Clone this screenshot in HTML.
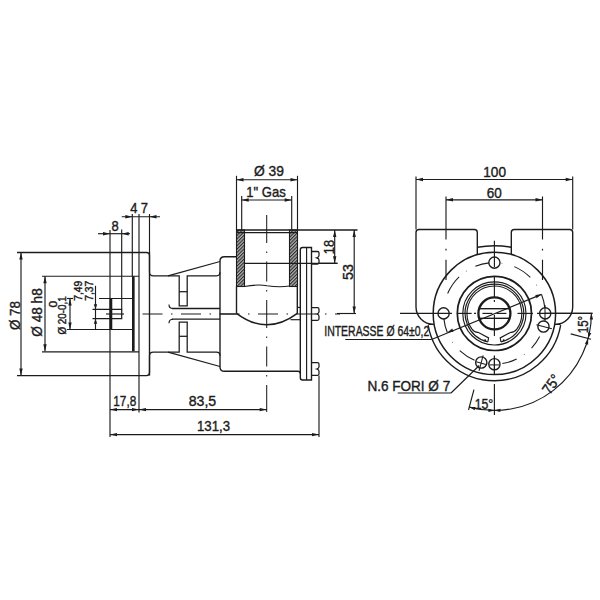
<!DOCTYPE html>
<html><head><meta charset="utf-8"><style>
html,body{margin:0;padding:0;background:#fff;}
svg{display:block;}
text{font-family:"Liberation Sans",sans-serif;fill:#1c1c1c;stroke:#1c1c1c;stroke-width:0.4px;}
</style></head><body>
<svg width="600" height="600" viewBox="0 0 600 600" stroke="#1c1c1c" stroke-linecap="butt">
<rect width="600" height="600" fill="#fff" stroke="none"/>
<path d="M17,252.5 H146.5 Q149.5,252.5 149.5,255.5 V272 Q149.5,275.8 153.3,275.8 H179.2 V305.8 H187.2 V275.8 H216.5 Q220,275.8 220,272.3" stroke-width="1.26" fill="none" />
<line x1="168.00" y1="275.80" x2="220.00" y2="261.50" stroke-width="1.26" />
<line x1="179.20" y1="291.70" x2="187.20" y2="291.70" stroke-width="1.26" />
<line x1="42.00" y1="276.20" x2="139.00" y2="276.20" stroke-width="1.15" />
<path d="M17,375.6 H146.5 Q149.5,375.6 149.5,372.6 V356.0 Q149.5,352.2 153.3,352.2 H179.2 V322.2 H187.2 V352.2 H216.5 Q220,352.2 220,355.7" stroke-width="1.26" fill="none" />
<line x1="168.00" y1="352.20" x2="220.00" y2="366.50" stroke-width="1.26" />
<line x1="179.20" y1="336.30" x2="187.20" y2="336.30" stroke-width="1.26" />
<line x1="42.00" y1="351.80" x2="139.00" y2="351.80" stroke-width="1.15" />
<path d="M236.5,256.7 H224.5 Q220,256.7 220,261 V366.9 Q220,371.2 224.5,371.2 H298 Q300.3,371.2 300.3,373.5" stroke-width="1.38" fill="none" />
<line x1="139.00" y1="214.00" x2="139.00" y2="412.50" stroke-width="1.15" />
<line x1="149.50" y1="214.00" x2="149.50" y2="253.00" stroke-width="1.15" />
<line x1="149.50" y1="252.50" x2="149.50" y2="375.60" stroke-width="1.38" />
<line x1="132.30" y1="214.00" x2="132.30" y2="276.20" stroke-width="1.15" />
<line x1="133.30" y1="276.20" x2="133.30" y2="351.20" stroke-width="2.64" />
<line x1="21.00" y1="252.50" x2="21.00" y2="375.60" stroke-width="1.15" />
<path d="M21.00,252.50 L22.70,259.50 L19.30,259.50 Z" fill="#1c1c1c" stroke="none"/>
<path d="M21.00,375.60 L19.30,368.60 L22.70,368.60 Z" fill="#1c1c1c" stroke="none"/>
<line x1="45.00" y1="276.20" x2="45.00" y2="351.20" stroke-width="1.15" />
<path d="M45.00,276.20 L46.70,283.20 L43.30,283.20 Z" fill="#1c1c1c" stroke="none"/>
<path d="M45.00,351.20 L43.30,344.20 L46.70,344.20 Z" fill="#1c1c1c" stroke="none"/>
<line x1="70.00" y1="298.50" x2="70.00" y2="329.50" stroke-width="1.15" />
<path d="M70.00,298.50 L71.70,305.50 L68.30,305.50 Z" fill="#1c1c1c" stroke="none"/>
<path d="M70.00,329.50 L68.30,322.50 L71.70,322.50 Z" fill="#1c1c1c" stroke="none"/>
<line x1="67.00" y1="298.50" x2="73.00" y2="298.50" stroke-width="1.15" />
<line x1="99.00" y1="298.50" x2="133.00" y2="298.50" stroke-width="1.15" />
<line x1="67.00" y1="329.50" x2="133.00" y2="329.50" stroke-width="1.15" />
<line x1="110.00" y1="230.00" x2="110.00" y2="437.00" stroke-width="1.15" />
<line x1="110.90" y1="298.50" x2="110.90" y2="329.50" stroke-width="2.76" />
<path d="M92.5,309.3 H121.7 V318.7 H92.5" stroke-width="1.26" fill="none" />
<line x1="121.70" y1="229.50" x2="121.70" y2="309.30" stroke-width="1.15" />
<line x1="106.00" y1="314.00" x2="124.00" y2="314.00" stroke-width="1.15" />
<line x1="95.50" y1="285.80" x2="95.50" y2="329.50" stroke-width="1.15" />
<path d="M95.50,309.30 L93.80,304.30 L97.20,304.30 Z" fill="#1c1c1c" stroke="none"/>
<path d="M95.50,318.70 L97.20,323.70 L93.80,323.70 Z" fill="#1c1c1c" stroke="none"/>
<line x1="98.00" y1="233.70" x2="130.00" y2="233.70" stroke-width="1.15" />
<path d="M110.00,233.70 L103.00,235.40 L103.00,232.00 Z" fill="#1c1c1c" stroke="none"/>
<path d="M121.70,233.70 L128.70,232.00 L128.70,235.40 Z" fill="#1c1c1c" stroke="none"/>
<line x1="121.70" y1="216.70" x2="160.00" y2="216.70" stroke-width="1.15" />
<path d="M132.30,216.70 L125.30,218.40 L125.30,215.00 Z" fill="#1c1c1c" stroke="none"/>
<path d="M149.50,216.70 L156.50,215.00 L156.50,218.40 Z" fill="#1c1c1c" stroke="none"/>
<line x1="110.00" y1="409.60" x2="267.00" y2="409.60" stroke-width="1.15" />
<path d="M110.00,409.60 L117.00,407.90 L117.00,411.30 Z" fill="#1c1c1c" stroke="none"/>
<path d="M139.00,409.60 L132.00,411.30 L132.00,407.90 Z" fill="#1c1c1c" stroke="none"/>
<path d="M139.00,409.60 L146.00,407.90 L146.00,411.30 Z" fill="#1c1c1c" stroke="none"/>
<path d="M266.70,409.60 L259.70,411.30 L259.70,407.90 Z" fill="#1c1c1c" stroke="none"/>
<line x1="110.00" y1="434.60" x2="319.00" y2="434.60" stroke-width="1.15" />
<path d="M110.00,434.60 L117.00,432.90 L117.00,436.30 Z" fill="#1c1c1c" stroke="none"/>
<path d="M319.00,434.60 L312.00,436.30 L312.00,432.90 Z" fill="#1c1c1c" stroke="none"/>
<line x1="319.00" y1="375.50" x2="319.00" y2="437.00" stroke-width="1.15" />
<line x1="266.70" y1="215.00" x2="266.70" y2="412.00" stroke-width="1.03" stroke-dasharray="28 8.5 1.5 8.5 20 8.5 1.5 8.5"/>
<line x1="142.50" y1="314.00" x2="340.00" y2="314.00" stroke-width="1.03" stroke-dasharray="20 8.5 1.5 8.5"/>
<path d="M172,308.5 H220" stroke-width="1.26" fill="none" />
<path d="M172,319.2 H220" stroke-width="1.26" fill="none" />
<path d="M169,304.5 Q169,308.5 173,308.5" stroke-width="1.15" fill="none" />
<path d="M169,323.2 Q169,319.2 173,319.2" stroke-width="1.15" fill="none" />
<line x1="220.00" y1="314.00" x2="236.50" y2="314.00" stroke-width="1.15" />
<defs><pattern id="h" patternUnits="userSpaceOnUse" width="2.4" height="2.4" patternTransform="rotate(45)"><rect width="2.4" height="2.4" fill="#b0b0b0" stroke="none"/><rect x="0" y="0" width="1.1" height="2.4" fill="#2a2a2a" stroke="none"/></pattern></defs>
<rect x="236.5" y="230" width="8" height="56.5" fill="url(#h)" stroke="#1c1c1c" stroke-width="1.1"/>
<rect x="289.5" y="230" width="8" height="56.5" fill="url(#h)" stroke="#1c1c1c" stroke-width="1.1"/>
<line x1="236.50" y1="230.10" x2="297.50" y2="230.10" stroke-width="1.49" />
<line x1="236.50" y1="232.60" x2="297.50" y2="232.60" stroke-width="1.38" />
<line x1="297.50" y1="230.00" x2="357.50" y2="230.00" stroke-width="1.38" />
<line x1="244.50" y1="263.30" x2="337.50" y2="263.30" stroke-width="1.15" />
<path d="M244.5,286.5 Q258,284 267,285.8 Q280,287.5 289.5,286" stroke-width="1.15" fill="none" />
<line x1="236.50" y1="286.50" x2="236.50" y2="313.30" stroke-width="1.38" />
<line x1="297.30" y1="286.50" x2="297.30" y2="313.70" stroke-width="1.38" />
<path d="M236.5,313.3 Q266.7,336.2 297.3,313.3" stroke-width="1.49" fill="none" />
<line x1="297.30" y1="307.40" x2="300.30" y2="307.40" stroke-width="1.15" />
<line x1="290.50" y1="319.70" x2="300.30" y2="319.70" stroke-width="1.15" />
<line x1="236.50" y1="175.80" x2="236.50" y2="230.00" stroke-width="1.15" />
<line x1="297.50" y1="175.80" x2="297.50" y2="230.00" stroke-width="1.15" />
<line x1="236.50" y1="179.70" x2="297.50" y2="179.70" stroke-width="1.15" />
<path d="M236.50,179.70 L243.50,178.00 L243.50,181.40 Z" fill="#1c1c1c" stroke="none"/>
<path d="M297.50,179.70 L290.50,181.40 L290.50,178.00 Z" fill="#1c1c1c" stroke="none"/>
<line x1="241.70" y1="196.00" x2="241.70" y2="230.00" stroke-width="1.15" />
<line x1="291.70" y1="196.00" x2="291.70" y2="230.00" stroke-width="1.15" />
<line x1="241.70" y1="200.00" x2="291.70" y2="200.00" stroke-width="1.15" />
<path d="M241.70,200.00 L248.70,198.30 L248.70,201.70 Z" fill="#1c1c1c" stroke="none"/>
<path d="M291.70,200.00 L284.70,201.70 L284.70,198.30 Z" fill="#1c1c1c" stroke="none"/>
<path d="M300.3,250 Q300.3,247.5 302.5,247.5 H311.5 V380 H302.5 Q300.3,380 300.3,377.5 Z" stroke-width="1.38" fill="none" />
<line x1="306.60" y1="247.50" x2="306.60" y2="380.00" stroke-width="1.15" />
<path d="M311.5,251.5 H317.5 Q319,251.5 319,253.0 V255.60000000000002 Q319,257.2 316.8,257.8 Q319,258.40000000000003 319,260.0 V262.6 Q319,264.1 317.5,264.1 H311.5" stroke-width="1.26" fill="none" />
<path d="M311.5,307.7 H317.5 Q319,307.7 319,309.2 V311.8 Q319,313.4 316.8,314.0 Q319,314.6 319,316.2 V318.8 Q319,320.3 317.5,320.3 H311.5" stroke-width="1.26" fill="none" />
<path d="M311.5,362.7 H317.5 Q319,362.7 319,364.2 V366.8 Q319,368.4 316.8,369 Q319,369.6 319,371.2 V373.8 Q319,375.3 317.5,375.3 H311.5" stroke-width="1.26" fill="none" />
<line x1="319.00" y1="263.30" x2="337.50" y2="263.30" stroke-width="1.15" />
<line x1="334.70" y1="230.00" x2="334.70" y2="263.30" stroke-width="1.15" />
<path d="M334.70,230.00 L336.40,237.00 L333.00,237.00 Z" fill="#1c1c1c" stroke="none"/>
<path d="M334.70,263.30 L333.00,256.30 L336.40,256.30 Z" fill="#1c1c1c" stroke="none"/>
<line x1="337.00" y1="313.50" x2="356.00" y2="313.50" stroke-width="1.15" />
<line x1="354.20" y1="230.00" x2="354.20" y2="313.50" stroke-width="1.15" />
<path d="M354.20,230.00 L355.90,237.00 L352.50,237.00 Z" fill="#1c1c1c" stroke="none"/>
<path d="M354.20,313.50 L352.50,306.50 L355.90,306.50 Z" fill="#1c1c1c" stroke="none"/>
<text x="269" y="175.8" font-size="15" text-anchor="middle" textLength="30" lengthAdjust="spacingAndGlyphs" >Ø 39</text>
<text x="266" y="196.7" font-size="15" text-anchor="middle" textLength="39.5" lengthAdjust="spacingAndGlyphs" >1" Gas</text>
<text x="333.7" y="254.2" font-size="15" text-anchor="start" textLength="14.2" lengthAdjust="spacingAndGlyphs" transform="rotate(-90 333.7 254.2)" >18</text>
<text x="353.3" y="280" font-size="15" text-anchor="start" textLength="16" lengthAdjust="spacingAndGlyphs" transform="rotate(-90 353.3 280)" >53</text>
<text x="130.2" y="213" font-size="15" text-anchor="start" textLength="7.2" lengthAdjust="spacingAndGlyphs" >4</text>
<text x="140.8" y="213" font-size="15" text-anchor="start" textLength="7.2" lengthAdjust="spacingAndGlyphs" >7</text>
<text x="111.6" y="231" font-size="15" text-anchor="start" textLength="7.2" lengthAdjust="spacingAndGlyphs" >8</text>
<text x="113.3" y="405.8" font-size="15" text-anchor="start" textLength="23" lengthAdjust="spacingAndGlyphs" >17,8</text>
<text x="188.7" y="405.5" font-size="15" text-anchor="start" textLength="27.5" lengthAdjust="spacingAndGlyphs" >83,5</text>
<text x="197" y="430.5" font-size="15" text-anchor="start" textLength="33" lengthAdjust="spacingAndGlyphs" >131,3</text>
<text x="20" y="330" font-size="15" text-anchor="start" textLength="29" lengthAdjust="spacingAndGlyphs" transform="rotate(-90 20 330)" >Ø 78</text>
<text x="42.5" y="336.7" font-size="15" text-anchor="start" textLength="48.4" lengthAdjust="spacingAndGlyphs" transform="rotate(-90 42.5 336.7)" >Ø 48 h8</text>
<text x="56.7" y="307.5" font-size="10" text-anchor="start" textLength="6.7" lengthAdjust="spacingAndGlyphs" transform="rotate(-90 56.7 307.5)" >0</text>
<text x="66.3" y="334.6" font-size="10" text-anchor="start" textLength="38.4" lengthAdjust="spacingAndGlyphs" transform="rotate(-90 66.3 334.6)" >Ø 20-0,1</text>
<text x="81.7" y="300.8" font-size="10" text-anchor="start" textLength="20" lengthAdjust="spacingAndGlyphs" transform="rotate(-90 81.7 300.8)" >7,49</text>
<text x="93.3" y="300.8" font-size="10" text-anchor="start" textLength="20" lengthAdjust="spacingAndGlyphs" transform="rotate(-90 93.3 300.8)" >7,37</text>
<line x1="416.00" y1="176.50" x2="416.00" y2="229.50" stroke-width="1.15" />
<line x1="572.70" y1="176.50" x2="572.70" y2="229.50" stroke-width="1.15" />
<line x1="416.00" y1="179.50" x2="572.70" y2="179.50" stroke-width="1.15" />
<path d="M416.00,179.50 L423.00,177.80 L423.00,181.20 Z" fill="#1c1c1c" stroke="none"/>
<path d="M572.70,179.50 L565.70,181.20 L565.70,177.80 Z" fill="#1c1c1c" stroke="none"/>
<line x1="446.00" y1="199.80" x2="542.50" y2="199.80" stroke-width="1.15" />
<path d="M446.00,199.80 L453.00,198.10 L453.00,201.50 Z" fill="#1c1c1c" stroke="none"/>
<path d="M542.50,199.80 L535.50,201.50 L535.50,198.10 Z" fill="#1c1c1c" stroke="none"/>
<line x1="446.00" y1="196.50" x2="446.00" y2="239.50" stroke-width="1.15" />
<line x1="446.00" y1="248.80" x2="446.00" y2="250.50" stroke-width="1.15" />
<line x1="446.00" y1="259.70" x2="446.00" y2="280.00" stroke-width="1.15" />
<line x1="542.50" y1="196.50" x2="542.50" y2="239.50" stroke-width="1.15" />
<line x1="542.50" y1="248.80" x2="542.50" y2="250.50" stroke-width="1.15" />
<line x1="542.50" y1="259.70" x2="542.50" y2="280.00" stroke-width="1.15" />
<text x="494.6" y="177.3" font-size="15" text-anchor="middle" textLength="22.7" lengthAdjust="spacingAndGlyphs" >100</text>
<text x="494.2" y="198.3" font-size="15" text-anchor="middle" textLength="15" lengthAdjust="spacingAndGlyphs" >60</text>
<path d="M416,307 V232.5 Q416,229.5 419,229.5 H474.3 Q477.3,229.5 477.3,232.5 V254" stroke-width="1.38" fill="none" />
<path d="M416,307 A17.5,17.5 0 0 0 433.5,324.4" stroke-width="1.38" fill="none" />
<path d="M511.3,254 V232.5 Q511.3,229.5 514.3,229.5 H569.7 Q572.7,229.5 572.7,232.5 V307" stroke-width="1.38" fill="none" />
<path d="M572.7,307 A17.5,17.5 0 0 1 555.3,324.4" stroke-width="1.38" fill="none" />
<line x1="555.00" y1="324.40" x2="560.50" y2="324.40" stroke-width="1.15" />
<line x1="428.50" y1="324.40" x2="433.80" y2="324.40" stroke-width="1.15" />
<path d="M477.3,247.3 Q494.4,244.1 511.3,247.3" stroke-width="1.38" fill="none" />
<path d="M560.68,325.09 A67.30,67.30 0 0 1 428.12,325.09" stroke-width="1.38" fill="none" />
<circle cx="494.40" cy="313.40" r="61.20" stroke-width="1.49" fill="none" />
<path d="M447.64,293.55 A50.80,50.80 0 0 1 459.11,276.86" stroke-width="1.03" fill="none" />
<path d="M475.37,266.30 A50.80,50.80 0 0 1 489.09,262.88" stroke-width="1.03" fill="none" />
<path d="M514.25,266.64 A50.80,50.80 0 0 1 530.32,277.48" stroke-width="1.03" fill="none" />
<path d="M539.66,336.46 A50.80,50.80 0 0 1 531.55,348.05" stroke-width="1.03" fill="none" />
<path d="M516.67,359.06 A50.80,50.80 0 0 1 502.35,363.57" stroke-width="1.03" fill="none" />
<path d="M474.55,360.16 A50.80,50.80 0 0 1 459.75,350.55" stroke-width="1.03" fill="none" />
<circle cx="452.53" cy="284.63" r="0.50" stroke="none" fill="#555"/>
<circle cx="466.36" cy="271.04" r="0.50" stroke="none" fill="#555"/>
<circle cx="501.91" cy="263.16" r="0.50" stroke="none" fill="#555"/>
<circle cx="536.52" cy="284.99" r="0.50" stroke="none" fill="#555"/>
<circle cx="544.82" cy="319.59" r="0.50" stroke="none" fill="#555"/>
<circle cx="524.26" cy="354.50" r="0.50" stroke="none" fill="#555"/>
<circle cx="488.21" cy="363.82" r="0.50" stroke="none" fill="#555"/>
<circle cx="452.53" cy="342.17" r="0.50" stroke="none" fill="#555"/>
<circle cx="494.40" cy="262.60" r="5.60" stroke-width="1.38" fill="none" />
<circle cx="443.60" cy="313.40" r="5.60" stroke-width="1.38" fill="none" />
<circle cx="545.20" cy="313.40" r="5.60" stroke-width="1.38" fill="none" />
<circle cx="481.25" cy="362.47" r="5.60" stroke-width="1.38" fill="none" />
<circle cx="543.47" cy="326.55" r="5.60" stroke-width="1.38" fill="none" />
<circle cx="494.40" cy="364.20" r="5.60" stroke-width="1.38" fill="none" />
<circle cx="494.40" cy="313.40" r="37.10" stroke-width="1.72" fill="none" />
<circle cx="494.40" cy="313.40" r="31.60" stroke-width="1.15" fill="none" />
<path d="M487.83,341.85 A29.2,29.2 0 1 1 500.97,341.85" stroke-width="1.15" fill="none" />
<path d="M471.96,329.12 A27.4,27.4 0 1 1 516.84,329.12" stroke-width="1.15" fill="none" />
<path d="M471.96,329.12 Q474.5,332.5 478,332.3 L488.6,337.9 L487.83,341.85" stroke-width="1.15" fill="none" />
<path d="M516.84,329.12 Q514.3,332.5 510.8,332.3 L500.2,337.9 L500.97,341.85" stroke-width="1.15" fill="none" />
<circle cx="485.10" cy="340.30" r="1.00" stroke="none" fill="#1c1c1c"/>
<circle cx="503.70" cy="340.30" r="1.00" stroke="none" fill="#1c1c1c"/>
<circle cx="494.40" cy="313.40" r="16.00" stroke-width="2.30" fill="none" />
<line x1="479.00" y1="308.70" x2="510.00" y2="308.70" stroke-width="1.38" />
<line x1="479.00" y1="318.30" x2="510.00" y2="318.30" stroke-width="1.38" />
<line x1="494.40" y1="240.70" x2="494.40" y2="267.00" stroke-width="1.15" />
<line x1="494.40" y1="276.00" x2="494.40" y2="297.00" stroke-width="1.15" />
<line x1="494.40" y1="300.00" x2="494.40" y2="302.00" stroke-width="1.15" />
<line x1="494.40" y1="315.00" x2="494.40" y2="336.00" stroke-width="1.15" />
<line x1="494.40" y1="355.50" x2="494.40" y2="375.00" stroke-width="1.15" />
<line x1="400.00" y1="313.40" x2="452.00" y2="313.40" stroke-width="1.15" />
<line x1="457.00" y1="313.40" x2="471.70" y2="313.40" stroke-width="1.15" />
<line x1="474.00" y1="313.40" x2="476.00" y2="313.40" stroke-width="1.15" />
<line x1="517.50" y1="313.40" x2="533.00" y2="313.40" stroke-width="1.15" />
<line x1="537.00" y1="313.40" x2="592.50" y2="313.40" stroke-width="1.15" />
<line x1="482.40" y1="313.40" x2="492.40" y2="313.40" stroke-width="1.15" />
<line x1="496.40" y1="313.40" x2="506.40" y2="313.40" stroke-width="1.15" />
<line x1="431.50" y1="339.50" x2="541.50" y2="294.37" stroke-width="1.15" />
<line x1="345.30" y1="339.50" x2="431.50" y2="339.50" stroke-width="1.15" />
<path d="M541.50,294.37 L536.57,298.19 L535.30,295.04 Z" fill="#1c1c1c" stroke="none"/>
<path d="M447.30,332.43 L452.23,328.61 L453.50,331.76 Z" fill="#1c1c1c" stroke="none"/>
<path d="M541.50,294.37 A50.80,50.80 0 0 1 544.92,308.09" stroke-width="1.15" fill="none" />
<path d="M447.30,332.43 A50.80,50.80 0 0 1 443.88,318.71" stroke-width="1.15" fill="none" />
<text x="324.3" y="336" font-size="14.5" text-anchor="start" textLength="105" lengthAdjust="spacingAndGlyphs" >INTERASSE Ø 64±0,2</text>
<text x="367.4" y="390.8" font-size="14.5" text-anchor="start" textLength="82.8" lengthAdjust="spacingAndGlyphs" >N.6 FORI Ø 7</text>
<line x1="397.70" y1="393.00" x2="451.00" y2="393.00" stroke-width="1.15" />
<line x1="451.00" y1="393.00" x2="479.25" y2="365.47" stroke-width="1.15" />
<path d="M591.40,313.40 A97.00,97.00 0 0 1 469.29,407.09" stroke-width="1.15" fill="none" />
<path d="M469.29,407.09 L475.53,407.01 L474.65,410.29 Z" fill="#1c1c1c" stroke="none"/>
<path d="M494.40,410.40 L488.40,412.10 L488.40,408.70 Z" fill="#1c1c1c" stroke="none"/>
<path d="M494.40,410.40 L500.40,408.70 L500.40,412.10 Z" fill="#1c1c1c" stroke="none"/>
<path d="M591.40,313.40 L593.10,319.40 L589.70,319.40 Z" fill="#1c1c1c" stroke="none"/>
<path d="M588.09,338.51 L588.01,332.27 L591.29,333.15 Z" fill="#1c1c1c" stroke="none"/>
<path d="M588.09,338.51 L588.18,344.74 L584.90,343.86 Z" fill="#1c1c1c" stroke="none"/>
<line x1="473.95" y1="389.71" x2="468.52" y2="409.99" stroke-width="1.15" />
<line x1="570.71" y1="333.85" x2="590.99" y2="339.28" stroke-width="1.15" />
<line x1="494.40" y1="384.00" x2="494.40" y2="415.00" stroke-width="1.15" />
<line x1="545.00" y1="313.40" x2="592.50" y2="313.40" stroke-width="1.15" />
<text x="484" y="409" font-size="15" text-anchor="middle" textLength="18.6" lengthAdjust="spacingAndGlyphs" >15°</text>
<text x="588.3" y="333.3" font-size="15" text-anchor="start" textLength="17.5" lengthAdjust="spacingAndGlyphs" transform="rotate(-90 588.3 333.3)" >15°</text>
<text x="555.5" y="387" font-size="15" text-anchor="middle" textLength="20" lengthAdjust="spacingAndGlyphs" transform="rotate(-55 555.5 387)" >75°</text>
<line x1="545.00" y1="305.00" x2="545.00" y2="321.00" stroke-width="1.03" />
<line x1="494.40" y1="356.00" x2="494.40" y2="373.00" stroke-width="1.03" />
<line x1="536.42" y1="324.66" x2="551.87" y2="328.80" stroke-width="1.03" />
<line x1="483.14" y1="355.42" x2="479.00" y2="370.87" stroke-width="1.03" />
<line x1="476.24" y1="361.85" x2="485.90" y2="364.44" stroke-width="1.03" />
<line x1="489.40" y1="364.90" x2="499.40" y2="364.90" stroke-width="1.03" />
</svg></body></html>
